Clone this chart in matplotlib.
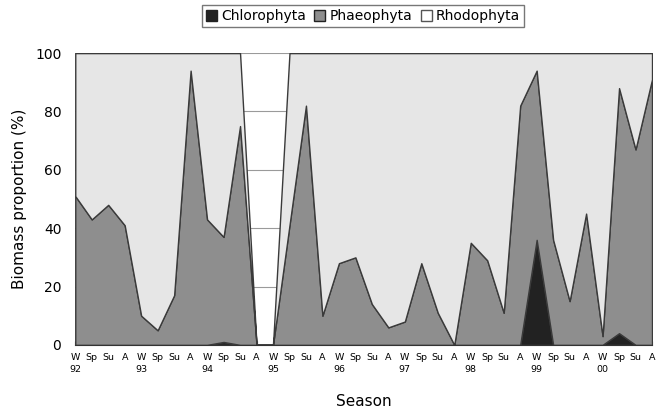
"""Biomass proportion of algal groups by season (stacked area)."""

import matplotlib
matplotlib.use('Agg')
import matplotlib.pyplot as plt
from matplotlib.patches import Patch

seasons = ['W', 'Sp', 'Su', 'A'] * 9
years = ['92', '93', '94', '95', '96', '97', '98', '99', '00']

chlorophyta = [0, 0, 0, 0, 0, 0, 0, 0, 0, 1, 0, 0,
               0, 0, 0, 0, 0, 0, 0, 0, 0, 0, 0, 0,
               0, 0, 0, 0, 36, 0, 0, 0, 0, 4, 0, 0]
phaeophyta = [51, 43, 48, 41, 10, 5, 17, 94, 43, 36, 75, 0,
              0, 41, 82, 10, 28, 30, 14, 6, 8, 28, 11, 0,
              35, 29, 11, 82, 58, 36, 15, 45, 3, 84, 67, 91]
rhodophyta = [49, 57, 52, 59, 90, 95, 83, 6, 57, 63, 25, 0,
              0, 59, 18, 90, 72, 70, 86, 94, 92, 72, 89, 100,
              65, 71, 89, 18, 6, 64, 85, 55, 97, 12, 33, 9]

# x tick labels : season letter, year under each winter
labels = []
for i, s in enumerate(seasons):
    if s == 'W':
        labels.append(s + '\n' + years[i // 4])
    else:
        labels.append(s)

x = list(range(len(seasons)))
couleurs = ['#222222', '#8e8e8e', '#e6e6e6']

fig = plt.figure(figsize=(6.66, 4.15), dpi=100)
ax = fig.add_axes([0.113, 0.169, 0.866, 0.703])

ax.yaxis.grid(True, color='#9a9a9a', linewidth=0.8, zorder=0)
ax.set_axisbelow(True)
ax.stackplot(x, chlorophyta, phaeophyta, rhodophyta, colors=couleurs,
             edgecolor='#3a3a3a', linewidth=1.0, zorder=2)

ax.set_xlim(0, len(seasons) - 1)
ax.set_ylim(0, 100)
ax.set_yticks([0, 20, 40, 60, 80, 100])
ax.set_xticks(x)
ax.set_xticklabels(labels, fontsize=6.8, linespacing=1.45, ha='center', va='top')
ax.tick_params(axis='x', direction='in', length=3, pad=6, color='#333333')
ax.tick_params(axis='y', length=0, labelsize=10, pad=10)

for cote in ['top', 'right', 'left']:
    ax.spines[cote].set_visible(False)
ax.spines['bottom'].set_color('#333333')

ax.set_xlabel('Season', fontsize=11, labelpad=14)
ax.set_ylabel('Biomass proportion (%)', fontsize=11, labelpad=6)

handles = [Patch(facecolor=couleurs[0], edgecolor='#222222', label='Chlorophyta'),
           Patch(facecolor=couleurs[1], edgecolor='#222222', label='Phaeophyta'),
           Patch(facecolor='white', edgecolor='#555555', label='Rhodophyta')]
fig.legend(handles=handles, loc='upper center', bbox_to_anchor=(0.545, 1.005), ncol=3,
           fontsize=10, frameon=True, fancybox=False, edgecolor='#555555',
           handlelength=0.8, handleheight=0.8, handletextpad=0.3, columnspacing=0.6,
           borderpad=0.3)

fig.savefig('out.png', dpi=100)
